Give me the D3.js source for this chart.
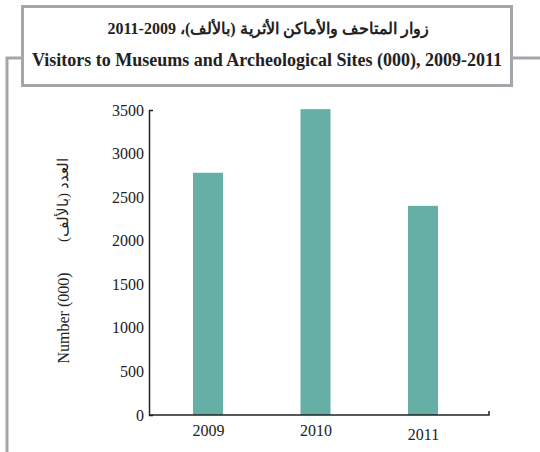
<!DOCTYPE html>
<html>
<head>
<meta charset="utf-8">
<script src="https://cdn.jsdelivr.net/npm/d3@7"></script>
<style>
  body { margin: 0; background: #fff; }
  text { font-family: "Liberation Serif", "DejaVu Serif", serif; }
</style>
</head>
<body>
<div id="chart"></div>
<script>
// Chart size
const width = 540;
const height = 452;

// Data
const years = ["2009", "2010", "2011"];
const visitors = [2780, 3510, 2400];
const yTicks = [0, 500, 1000, 1500, 2000, 2500, 3000, 3500];
const titleAr = "زوار المتاحف والأماكن الأثرية (بالألف)، 2009-2011";
const titleEn = "Visitors to Museums and Archeological Sites (000), 2009-2011";
const yLabelAr = "العدد  (بالألف)";
const yLabelEn = "Number (000)";

const data = years.map((d, i) => ({ year: d, value: visitors[i] }));

const svg = d3.select("#chart")
    .append("svg")
    .attr("width", width)
    .attr("height", height);

// Gray frame around the title and down the left side
const frame = "#a3a7ab";
svg.append("rect")
    .attr("x", 22.5).attr("y", 6.5)
    .attr("width", 489).attr("height", 79)
    .attr("fill", "#fff")
    .attr("stroke", frame)
    .attr("stroke-width", 3);
svg.append("path")
    .attr("d", "M22,58H7V452")
    .attr("fill", "none")
    .attr("stroke", frame)
    .attr("stroke-width", 3);
svg.append("path")
    .attr("d", "M512,58H540")
    .attr("fill", "none")
    .attr("stroke", frame)
    .attr("stroke-width", 3);

// Titles
svg.append("text")
    .attr("x", 268).attr("y", 34)
    .attr("text-anchor", "middle")
    .attr("direction", "rtl")
    .style("font-size", "16px")
    .style("font-weight", "bold")
    .attr("fill", "#222")
    .text(titleAr);
svg.append("text")
    .attr("x", 267).attr("y", 66)
    .attr("text-anchor", "middle")
    .style("font-size", "18px")
    .style("font-weight", "bold")
    .attr("fill", "#222")
    .text(titleEn);

// Scales
const y = d3.scaleLinear().domain([0, 3500]).range([415, 110]);
const x = d3.scalePoint().domain(years).range([208, 423]);
const barWidth = 30;

// Bars
svg.selectAll("rect.bar")
    .data(data)
    .enter().append("rect")
    .attr("class", "bar")
    .attr("x", d => x(d.year) - barWidth / 2)
    .attr("y", d => y(d.value))
    .attr("width", barWidth)
    .attr("height", d => y(0) - y(d.value))
    .attr("fill", "#65afa7");

// Y axis
const yAxis = svg.append("g")
    .attr("transform", "translate(149,0)")
    .call(d3.axisLeft(y).tickValues(yTicks).tickFormat(d3.format("d"))
        .tickSizeInner(0).tickSizeOuter(-4).tickPadding(5));
yAxis.select(".domain").attr("stroke", "#222").attr("stroke-width", 1.5);
yAxis.selectAll("text")
    .style("font-size", "16px")
    .attr("fill", "#222");

// X axis line
svg.append("path")
    .attr("d", `M149,${y(0)}H489V${y(0) - 4}`)
    .attr("fill", "none")
    .attr("stroke", "#222")
    .attr("stroke-width", 1.5);

const xAxis = svg.append("g")
    .attr("transform", `translate(0,${y(0)})`)
    .call(d3.axisBottom(x).tickSize(0).tickPadding(10));
xAxis.select(".domain").remove();
xAxis.selectAll("text")
    .style("font-size", "16px")
    .attr("fill", "#222")
    .attr("dy", (d, i) => i === 2 ? "0.95em" : "0.71em");

// Y axis labels (rotated)
svg.append("text")
    .attr("transform", "translate(68,200) rotate(-90)")
    .attr("text-anchor", "middle")
    .attr("direction", "rtl")
    .style("font-size", "15px")
    .attr("fill", "#222")
    .text(yLabelAr);
svg.append("text")
    .attr("transform", "translate(69,318) rotate(-90)")
    .attr("text-anchor", "middle")
    .style("font-size", "16px")
    .attr("fill", "#222")
    .text(yLabelEn);
</script>
</body>
</html>
